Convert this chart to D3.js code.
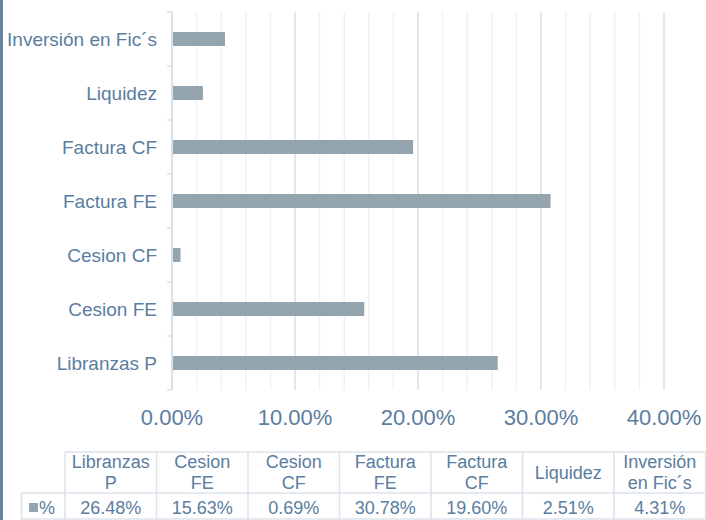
<!DOCTYPE html>
<html><head><meta charset="utf-8">
<script src="https://cdn.jsdelivr.net/npm/d3@7/dist/d3.min.js"></script>
<style>body{margin:0;background:#fff}svg{display:block;font-family:Arial,"Liberation Sans",sans-serif}</style>
</head><body><svg id="c" width="706" height="520"></svg>
<script>
const categories = ["Libranzas P","Cesion FE","Cesion CF","Factura FE","Factura CF","Liquidez","Inversión en Fic´s"];
const values = [26.48,15.63,0.69,30.78,19.60,2.51,4.31];
const headerLines = [["Libranzas","P"],["Cesion","FE"],["Cesion","CF"],["Factura","FE"],["Factura","CF"],["Liquidez"],["Inversión","en Fic´s"]];
const xTicks = [0,10,20,30,40];
const seriesName = "%";

(function(){
const svg = d3.select("#c");
const textCol = "#5a7da0", barCol = "#94a4ae", gridMajor = "#d8e1ea", gridMinor = "#eef2f6";
const pL = 172, pR = 664, pT = 12, pB = 390;

svg.append("rect").attr("x",0).attr("y",0).attr("width",3).attr("height",520).attr("fill","#6784a3");

const x = d3.scaleLinear().domain([0,40]).range([pL,pR]);
const y = d3.scaleBand().domain(categories.slice().reverse()).range([pT,pB]);

svg.append("g").selectAll("line").data(d3.range(2,42,2).filter(v=>v%10!==0)).join("line")
  .attr("x1",d=>x(d)).attr("x2",d=>x(d)).attr("y1",pT).attr("y2",pB)
  .attr("stroke",gridMinor).attr("stroke-width",1.5);
svg.append("g").selectAll("line").data(xTicks.filter(v=>v>0)).join("line")
  .attr("x1",d=>x(d)).attr("x2",d=>x(d)).attr("y1",pT).attr("y2",pB)
  .attr("stroke",gridMajor).attr("stroke-width",1.5);

const bh = 14;
svg.append("g").selectAll("rect").data(categories).join("rect")
  .attr("x",x(0)+1).attr("y",(d)=>y(d)+y.bandwidth()/2-bh/2)
  .attr("width",(d,i)=>x(values[i])-x(0)-1).attr("height",bh).attr("fill",barCol);

svg.append("line").attr("x1",pL).attr("x2",pL).attr("y1",pT).attr("y2",pB).attr("stroke",gridMajor).attr("stroke-width",2);
const bounds = d3.range(0,categories.length+1).map(i=>pT+i*y.step());
svg.append("g").selectAll("line").data(bounds).join("line")
  .attr("x1",pL-5).attr("x2",pL).attr("y1",d=>d).attr("y2",d=>d)
  .attr("stroke",gridMajor).attr("stroke-width",1.5);

svg.append("g").selectAll("text").data(categories).join("text")
  .attr("x",157).attr("y",d=>y(d)+y.bandwidth()/2).attr("dy","0.35em")
  .attr("text-anchor","end").attr("fill",textCol).attr("font-size",19).text(d=>d);

svg.append("g").selectAll("text").data(xTicks).join("text")
  .attr("x",d=>x(d)).attr("y",425).attr("text-anchor","middle")
  .attr("fill",textCol).attr("font-size",22).text(d=>d.toFixed(2)+"%");

const t0 = 65, cw = 91.5, r0 = 452, r1 = 493, r2 = 521;
const tb = svg.append("g");
const bc = "#dbe3eb";
tb.append("line").attr("x1",t0).attr("x2",t0+cw*7).attr("y1",r0).attr("y2",r0).attr("stroke",bc).attr("stroke-width",1.5);
tb.append("line").attr("x1",21.5).attr("x2",t0+cw*7).attr("y1",r1).attr("y2",r1).attr("stroke",bc).attr("stroke-width",1.5);
tb.append("line").attr("x1",21.5).attr("x2",t0+cw*7).attr("y1",r2-2).attr("y2",r2-2).attr("stroke",bc).attr("stroke-width",1.5);
tb.append("line").attr("x1",21.5).attr("x2",21.5).attr("y1",r1).attr("y2",r2).attr("stroke",bc).attr("stroke-width",1.5);
tb.selectAll("line.v").data(d3.range(0,8)).join("line").attr("class","v")
  .attr("x1",i=>t0+i*cw).attr("x2",i=>t0+i*cw).attr("y1",r0).attr("y2",r2)
  .attr("stroke",bc).attr("stroke-width",1.5);
headerLines.forEach((lines,i)=>{
  const cx = t0+i*cw+cw/2;
  const n = lines.length;
  lines.forEach((ln,j)=>{
    tb.append("text").attr("x",cx).attr("y",472.5+(j-(n-1)/2)*21).attr("dy","0.35em")
      .attr("text-anchor","middle").attr("fill",textCol).attr("font-size",18).text(ln);
  });
  tb.append("text").attr("x",cx).attr("y",508).attr("dy","0.35em")
    .attr("text-anchor","middle").attr("fill",textCol).attr("font-size",18).text(values[i].toFixed(2)+"%");
});
tb.append("rect").attr("x",29).attr("y",503).attr("width",9).attr("height",9).attr("fill",barCol);
tb.append("text").attr("x",39).attr("y",508).attr("dy","0.35em").attr("fill",textCol).attr("font-size",18).text(seriesName);
})();
</script></body></html>
